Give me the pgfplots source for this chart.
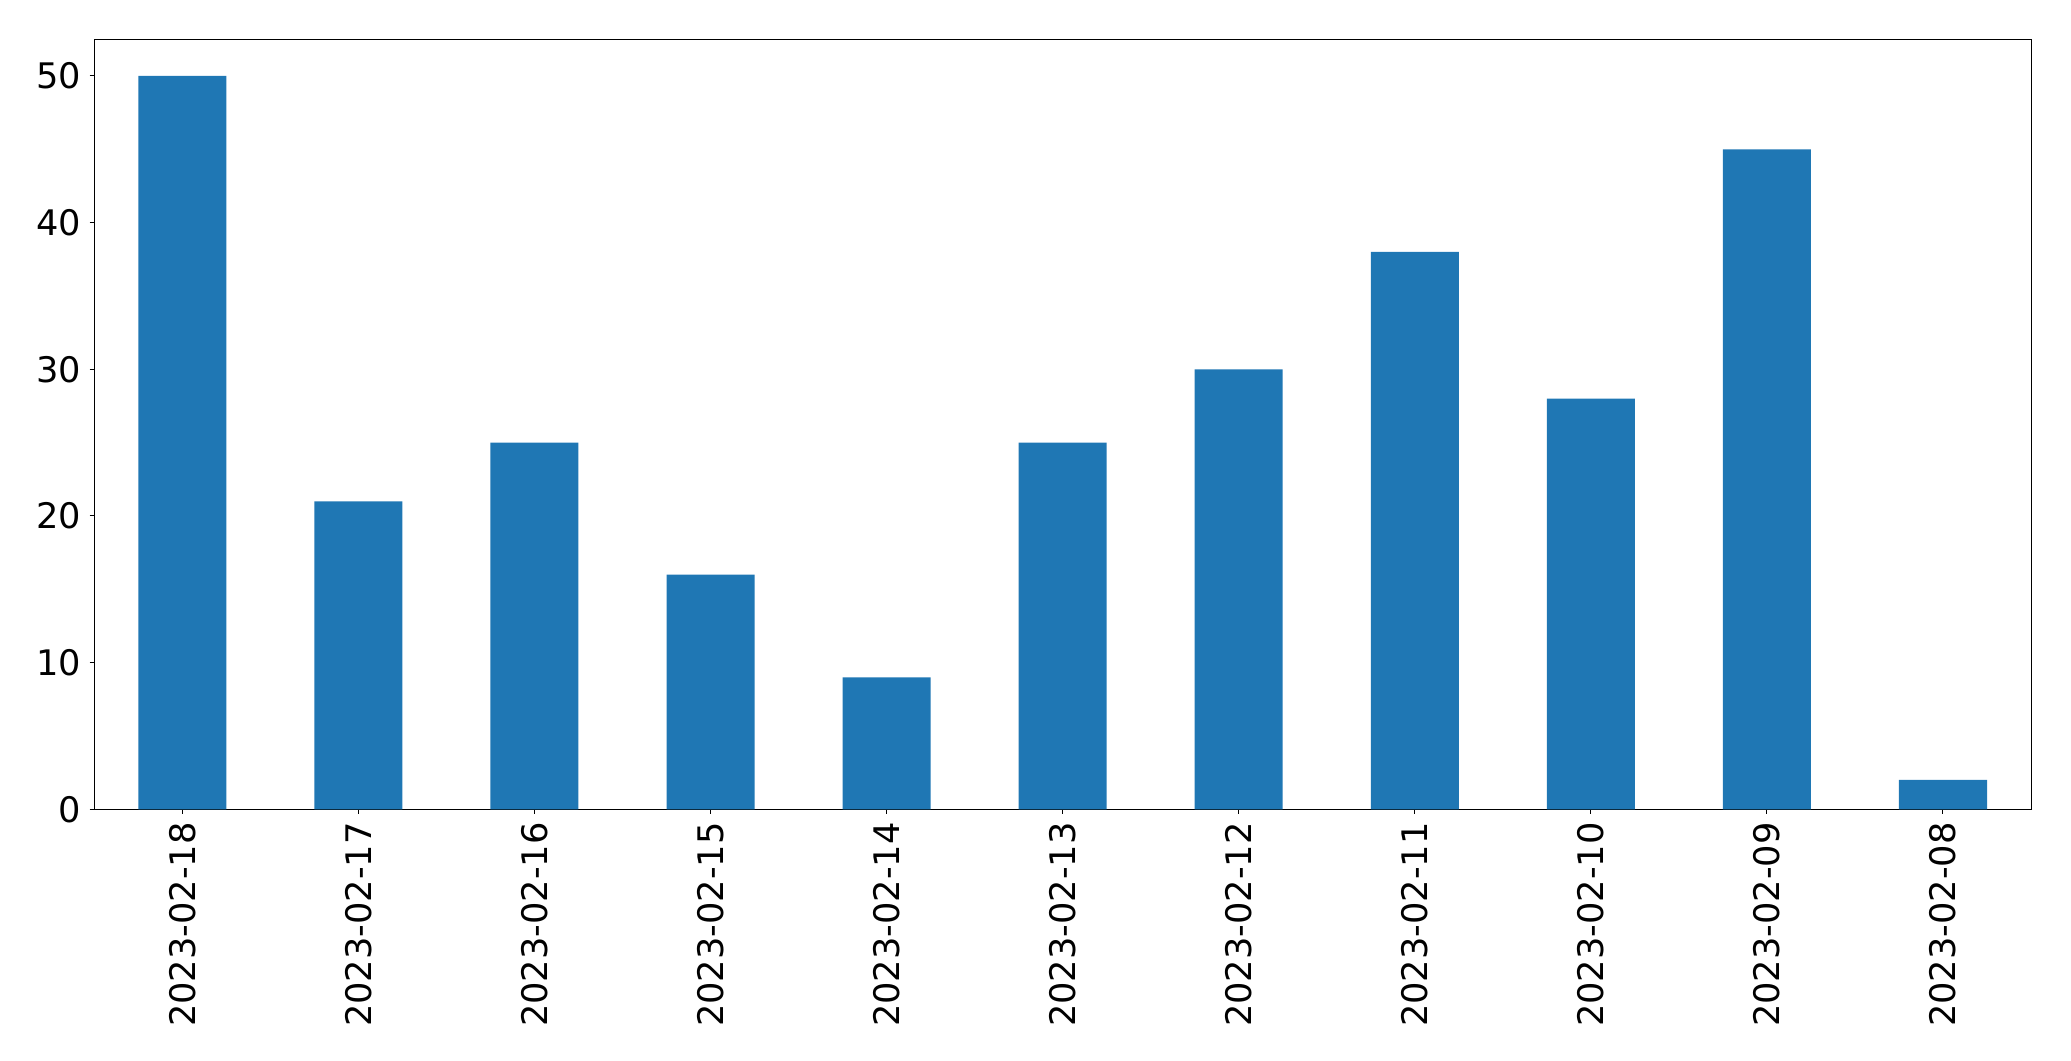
\documentclass[border=0pt]{standalone}
\usepackage{pgfplots}
\pgfplotsset{compat=1.18}
\usepackage{fontspec}
\setmainfont{DejaVu Sans}
\definecolor{barblue}{HTML}{1F77B4}
\begin{document}
\begin{tikzpicture}
\begin{axis}[
  scale only axis,
  width=968.4pt, height=385pt,
  xmin=-0.5, xmax=10.5,
  ymin=0, ymax=52.5,
  ytick={0,10,20,30,40,50},
  xtick={0,1,2,3,4,5,6,7,8,9,10},
  xticklabels={2023-02-18,2023-02-17,2023-02-16,2023-02-15,2023-02-14,2023-02-13,2023-02-12,2023-02-11,2023-02-10,2023-02-09,2023-02-08},
  tick align=outside,
  major tick length=2.3pt,
  tick style={black, line width=0.5pt},
  axis line style={black, line width=0.5pt},
  xtick pos=bottom, ytick pos=left,
  /pgf/number format/assume math mode=true,
  tick label style={font=\fontsize{17.6}{20}\selectfont},
  xticklabel style={rotate=90, anchor=east, inner sep=0pt, xshift=-4pt},
  yticklabel style={inner sep=0pt, xshift=-4pt},
  ybar, bar width=0.5,
  /pgf/bar shift=0pt,
]
\addplot[fill=barblue, draw=none] coordinates {
(0,50) (1,21) (2,25) (3,16) (4,9) (5,25) (6,30) (7,38) (8,28) (9,45) (10,2)
};
\coordinate (sw) at (rel axis cs:0,0);
\coordinate (ne) at (rel axis cs:1,1);
\end{axis}
\path ([xshift=-47.15pt,yshift=-125.85pt]sw) rectangle ([xshift=20pt,yshift=19.65pt]ne);
\end{tikzpicture}
\end{document}
